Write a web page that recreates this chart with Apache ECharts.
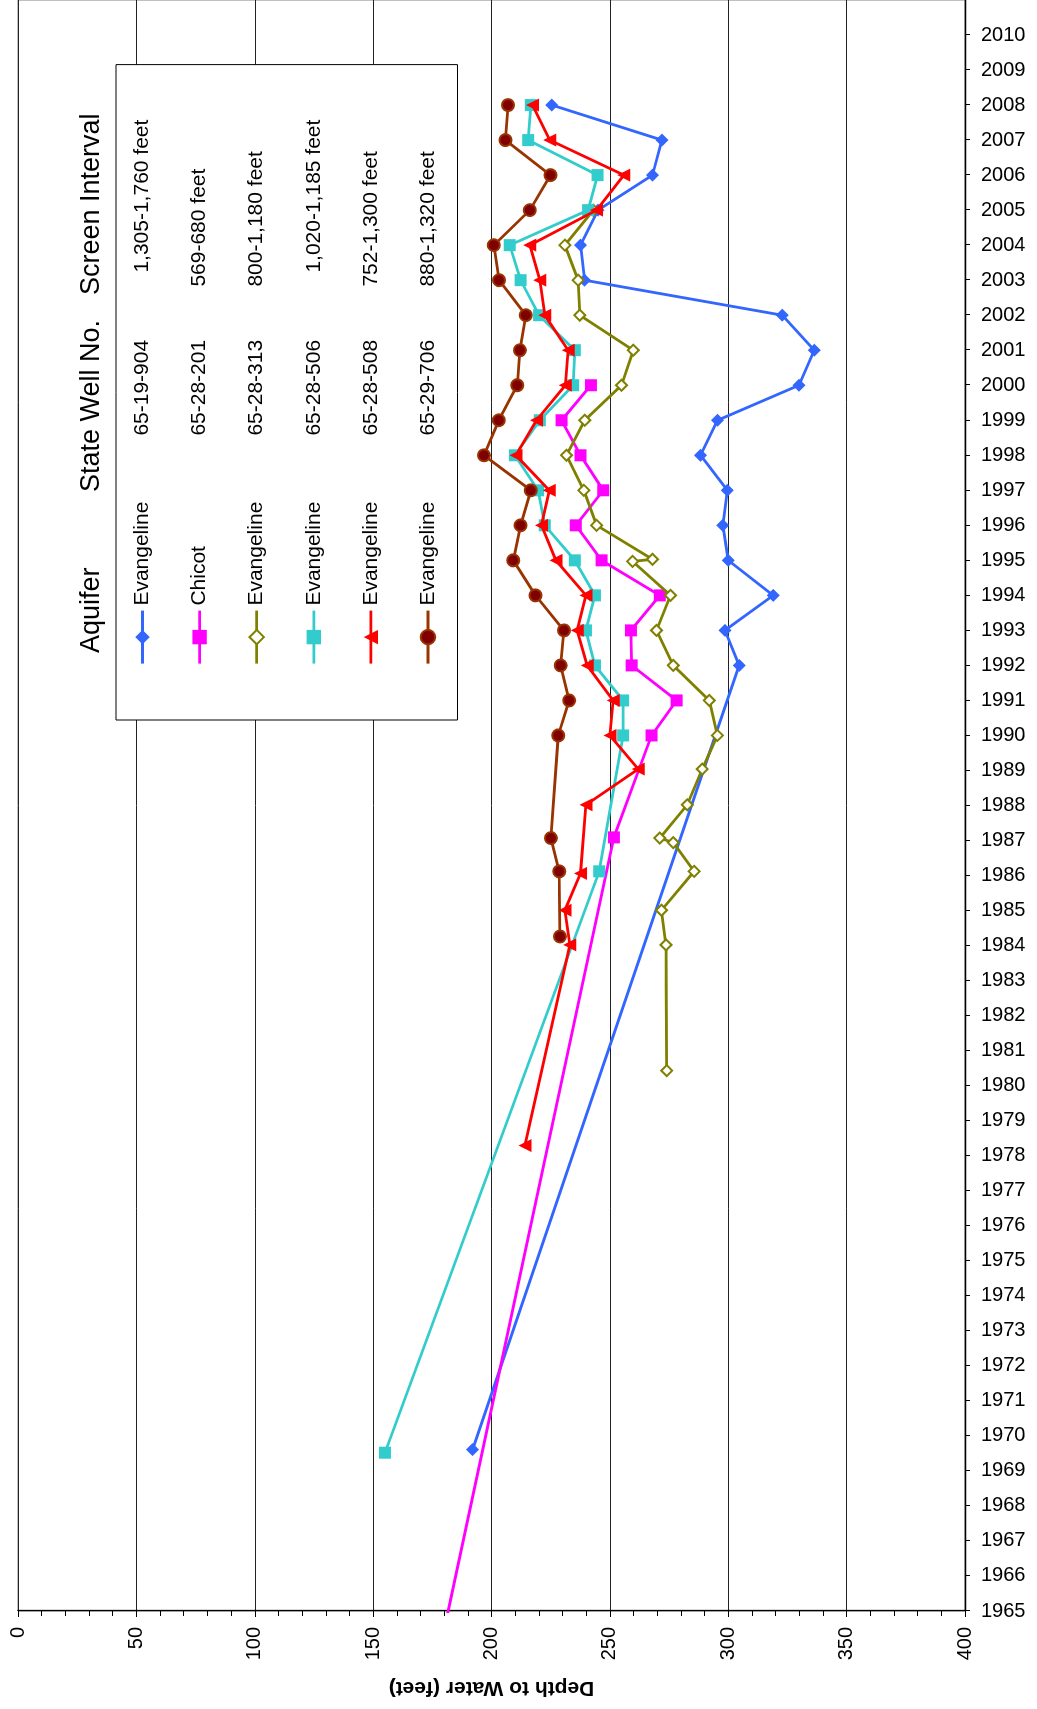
<!DOCTYPE html>
<html>
<head>
<meta charset="utf-8">
<title>Depth to Water</title>
<script src="https://cdn.jsdelivr.net/npm/echarts@6/dist/echarts.min.js"></script>
<style>
  html, body { margin: 0; padding: 0; background: #fff; }
  body { width: 1037px; height: 1709px; overflow: hidden; position: relative; }
  /* chart is laid out landscape, then turned a quarter turn counter-clockwise */
  #chart {
    position: absolute; left: 0; top: 0;
    width: 1709px; height: 1037px;
    transform-origin: 0 0;
    transform: translate(0, 1709px) rotate(-90deg);
  }
</style>
</head>
<body>
<div id="chart"></div>
<script>
// Depth to water measurements, [decimal year, depth in feet]
const well_65_19_904 = [[1969.61,192.0],[1992,304.6],[1993,298.6],[1994,319.0],[1995,300.0],[1996,297.7],[1997,299.6],[1998,288.3],[1999,295.5],[2000,329.9],[2001,336.3],[2002,322.8],[2003,239.3],[2004,237.6],[2005,245.0],[2006,268.0],[2007,272.0],[2008,225.5]];
const well_65_28_201 = [[1961,169.0],[1987.09,251.7],[1990,267.6],[1991,278.2],[1992,259.2],[1993,258.9],[1994,271.1],[1995,246.5],[1996,235.6],[1997,247.2],[1998,237.6],[1999,229.6],[2000,242.0]];
const well_65_28_313 = [[1980.43,274.0],[1984.02,273.7],[1985.01,271.8],[1986.12,285.6],[1986.94,276.8],[1987.07,271.1],[1988.02,282.7],[1989.04,289.0],[1990,295.4],[1991,292.0],[1992,276.8],[1993,269.7],[1994,275.6],[1994.97,259.6],[1995.03,268.0],[1996,244.4],[1997,239.0],[1998,231.7],[1999,239.4],[2000,254.9],[2001,259.9],[2002,237.3],[2003,236.6],[2004,231.0],[2005,243.0]];
const well_65_28_506 = [[1969.52,155.0],[1986.12,245.5],[1990,255.6],[1991,255.6],[1992,243.7],[1993,239.9],[1994,243.7],[1995,235.2],[1996,222.5],[1997,219.7],[1998,209.9],[1999,220.4],[2000,234.5],[2001,235.2],[2002,220.1],[2003,212.3],[2004,207.7],[2005,240.8],[2006,244.8],[2007,215.5],[2008,216.6]];
const well_65_28_508 = [[1978.29,214.1],[1984.02,233.1],[1985.01,231.0],[1986.06,237.6],[1988.02,239.9],[1989.04,262.0],[1990,250.0],[1991,251.4],[1992,240.4],[1993,236.2],[1994,239.9],[1995,227.2],[1996,221.1],[1997,224.4],[1998,210.3],[1999,219.0],[2000,231.2],[2001,232.4],[2002,222.5],[2003,220.4],[2004,216.2],[2005,244.4],[2006,255.9],[2007,224.6],[2008,217.3]];
const well_65_29_706 = [[1984.26,228.9],[1986.12,228.6],[1987.07,225.1],[1990,228.2],[1991,232.8],[1992,229.2],[1993,230.6],[1994,218.6],[1995,209.2],[1996,212.3],[1997,216.6],[1998,196.8],[1999,203.1],[2000,210.9],[2001,212.0],[2002,214.5],[2003,203.2],[2004,201.0],[2005,216.2],[2006,224.9],[2007,205.9],[2008,207.0]];

// Legend columns
const wellNumbers    = ['65-19-904', '65-28-201', '65-28-313', '65-28-506', '65-28-508', '65-29-706'];
const aquifers       = ['Evangeline', 'Chicot', 'Evangeline', 'Evangeline', 'Evangeline', 'Evangeline'];
const screenInterval = ['1,305-1,760 feet', '569-680 feet', '800-1,180 feet', '1,020-1,185 feet', '752-1,300 feet', '880-1,320 feet'];
const legendHeaders  = ['Aquifer', 'State Well No.', 'Screen Interval'];

// Axis ranges
const yearMin = 1965, yearMax = 2011;
const depthMin = 0, depthMax = 400, depthStep = 50;

const FONT = '"Liberation Sans", Arial, Helvetica, sans-serif';

const wellData = [well_65_19_904, well_65_28_201, well_65_28_313, well_65_28_506, well_65_28_508, well_65_29_706];
const styles = [
  { symbol: 'diamond',      size: 13, color: '#3366FF', line: '#3366FF' },
  { symbol: 'rect',         size: 12, color: '#FF00FF', line: '#FF00FF' },
  { symbol: 'emptyDiamond', size: 11, color: '#808000', line: '#808000' },
  { symbol: 'rect',         size: 12, color: '#33CCCC', line: '#33CCCC' },
  { symbol: 'triangle',     size: 13, color: '#FF0000', line: '#FF0000' },
  { symbol: 'circle',       size: 12, color: '#800000', line: '#993300', border: '#993300' }
];

const series = wellData.map((data, i) => {
  const s = styles[i];
  const itemStyle = { color: s.color };
  if (s.symbol === 'emptyDiamond') { itemStyle.borderColor = s.color; itemStyle.borderWidth = 2.2; }
  if (s.border) { itemStyle.borderColor = s.border; itemStyle.borderWidth = 2; }
  return {
    name: wellNumbers[i],
    type: 'line',
    data: data,
    symbol: s.symbol,
    symbolSize: s.size,
    showAllSymbol: true,
    clip: true,
    itemStyle: itemStyle,
    lineStyle: { color: s.line, width: 2.8 },
    emphasis: { disabled: true },
    z: 3 + i
  };
});

const chart = echarts.init(document.getElementById('chart'), null, { renderer: 'canvas' });

chart.setOption({
  animation: false,
  backgroundColor: '#ffffff',
  grid: {
    left: 98, top: 18, width: 1613, height: 947,
    show: true, borderColor: '#808080', borderWidth: 1, backgroundColor: 'transparent'
  },
  xAxis: {
    type: 'value',
    min: yearMin, max: yearMax, interval: 1,
    position: 'bottom',
    axisLine: { show: true, onZero: false, lineStyle: { color: '#000', width: 1.3 } },
    axisTick: { show: true, length: 5, lineStyle: { color: '#000' } },
    axisLabel: {
      rotate: -90, margin: 16, fontSize: 20, fontFamily: FONT, color: '#000',
      showMaxLabel: false,
      formatter: v => String(v)
    },
    splitLine: { show: false }
  },
  yAxis: {
    type: 'value',
    min: depthMin, max: depthMax, interval: depthStep,
    inverse: true,
    name: 'Depth to Water (feet)',
    nameLocation: 'middle',
    nameGap: 66,
    nameTextStyle: { fontSize: 21, fontWeight: 'bold', fontFamily: FONT, color: '#000' },
    axisLine: { show: true, onZero: false, lineStyle: { color: '#000', width: 1.3 } },
    axisTick: { show: true, length: 6, lineStyle: { color: '#000' } },
    minorTick: { show: true, splitNumber: 5, length: 5, lineStyle: { color: '#000' } },
    axisLabel: {
      margin: 16, fontSize: 20, fontFamily: FONT, color: '#000',
      formatter: v => String(v)
    },
    splitLine: { show: true, lineStyle: { color: '#222', width: 1 } }
  },
  legend: {
    orient: 'vertical',
    left: 989, top: 116,
    padding: [16, 50, 19, 55],
    itemWidth: 53, itemHeight: 18, itemGap: 36.1,
    borderColor: '#000', borderWidth: 1,
    backgroundColor: '#ffffff',
    selectedMode: false,
    lineStyle: { width: 2.8 },
    data: wellNumbers,
    formatter: name => {
      const i = wellNumbers.indexOf(name);
      const interval = screenInterval[i];
      const lead = interval.charAt(0) === '1' ? '{p| }{c1|' : '{c|';
      return '{a|' + aquifers[i] + '}{b|' + name + '}' + lead + interval + '}';
    },
    textStyle: {
      fontSize: 21, fontFamily: FONT, color: '#000',
      rich: {
        a:  { width: 170, fontSize: 21, fontFamily: FONT, color: '#000', lineHeight: 24 },
        b:  { width: 149, fontSize: 21, fontFamily: FONT, color: '#000', lineHeight: 24 },
        p:  { width: 14,  fontSize: 21, fontFamily: FONT, color: '#000', lineHeight: 24 },
        c:  { width: 172, fontSize: 21, fontFamily: FONT, color: '#000', lineHeight: 24 },
        c1: { width: 158, fontSize: 21, fontFamily: FONT, color: '#000', lineHeight: 24 }
      }
    }
  },
  graphic: [
    { type: 'text', x: 1056, y: 92, z: 10, style: { text: legendHeaders[0], fontSize: 27, fontFamily: FONT, fill: '#000', verticalAlign: 'middle' } },
    { type: 'text', x: 1217, y: 92, z: 10, style: { text: legendHeaders[1], fontSize: 27, fontFamily: FONT, fill: '#000', verticalAlign: 'middle' } },
    { type: 'text', x: 1414, y: 92, z: 10, style: { text: legendHeaders[2], fontSize: 27, fontFamily: FONT, fill: '#000', verticalAlign: 'middle' } }
  ],
  series: series
});
</script>
</body>
</html>
